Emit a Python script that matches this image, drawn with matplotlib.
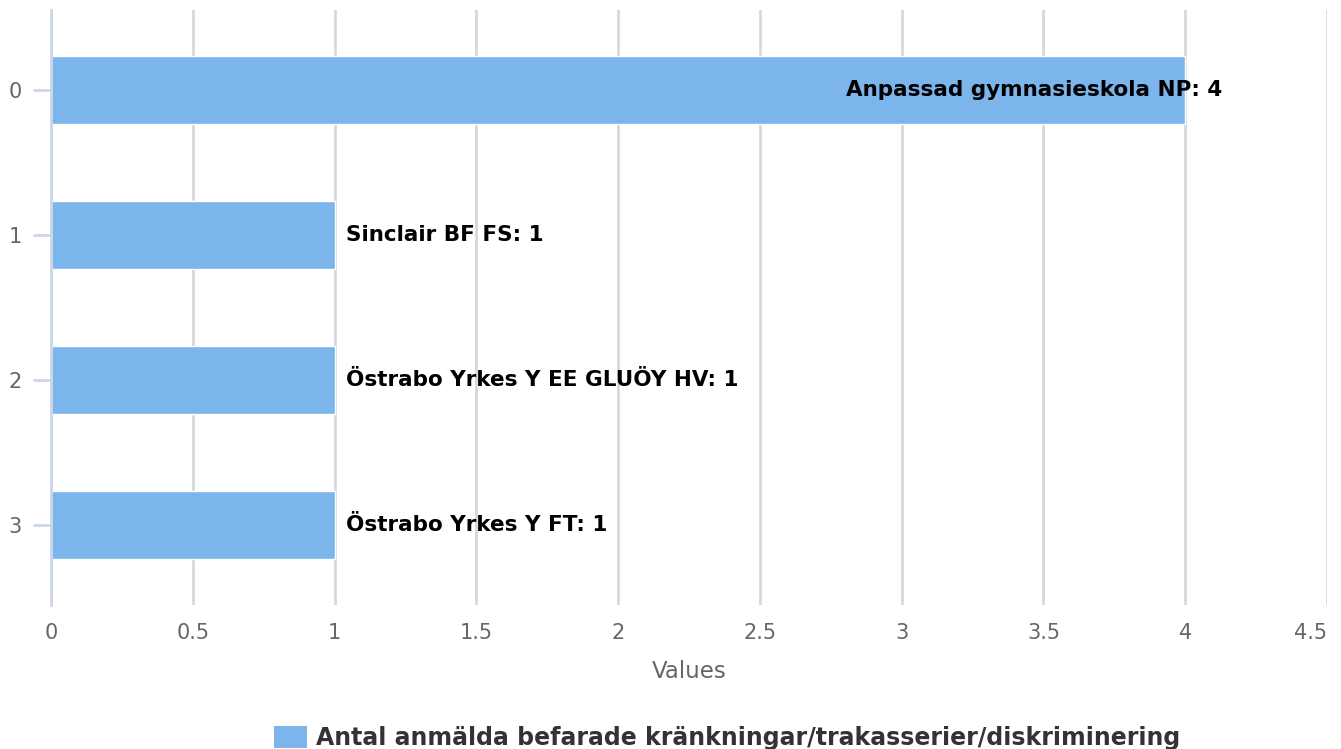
import matplotlib
matplotlib.use('Agg')
import matplotlib.pyplot as plt
from matplotlib.patches import Patch

# data
categories = [0, 1, 2, 3]
schools = ["Anpassad gymnasieskola NP", "Sinclair BF FS",
           "Östrabo Yrkes Y EE GLUÖY HV", "Östrabo Yrkes Y FT"]
values = [4, 1, 1, 1]
series_name = "Antal anmälda befarade kränkningar/trakasserier/diskriminering"
xticks = [0, 0.5, 1, 1.5, 2, 2.5, 3, 3.5, 4, 4.5]
xtick_labels = ["0", "0.5", "1", "1.5", "2", "2.5", "3", "3.5", "4", "4.5"]

bar_color = '#7cb5ec'
grid_color = '#d8d8d8'
axis_color = '#ccd6eb'
label_grey = '#666666'

fig = plt.figure(figsize=(13.41, 7.49), dpi=100)
ax = fig.add_axes([51 / 1341, 1 - 605 / 749, 1276 / 1341, 595 / 749])

ax.barh(categories, values, height=0.47, color=bar_color,
        edgecolor='white', linewidth=1, zorder=3)

ax.set_xlim(0, 4.5)
ax.set_ylim(3.55, -0.55)

ax.set_xticks(xticks)
ax.set_xticklabels(xtick_labels)
ax.set_yticks(categories)
ax.set_yticklabels([str(c) for c in categories])
# last tick label kept inside the figure
ax.get_xticklabels()[-1].set_horizontalalignment('right')

ax.grid(axis='x', color=grid_color, linewidth=2, zorder=0)
ax.grid(axis='y', visible=False)
for s in ['top', 'right', 'bottom']:
    ax.spines[s].set_visible(False)
ax.spines['left'].set_color(axis_color)
ax.spines['left'].set_linewidth(2)
ax.spines['left'].set_zorder(4)

ax.tick_params(axis='x', length=0, pad=13, labelsize=15, labelcolor=label_grey)
ax.tick_params(axis='y', length=13, width=2, color=axis_color, pad=8,
               labelsize=15, labelcolor=label_grey)

ax.set_xlabel('Values', fontsize=16.5, color=label_grey, labelpad=12)

# data labels
for i, (name, v) in enumerate(zip(schools, values)):
    txt = f"{name}: {v}"
    if v >= max(values):
        ax.text(v + 0.13, i, txt, ha='right', va='center', fontsize=15.5,
                fontweight='bold', color='black', zorder=5)
    else:
        ax.text(v + 0.04, i, txt, ha='left', va='center', fontsize=15.5,
                fontweight='bold', color='black', zorder=5)

handles = [Patch(facecolor=bar_color, edgecolor='none')]
leg = fig.legend(handles, [series_name], loc='center', bbox_to_anchor=(727 / 1341, 1 - 738 / 749),
                 frameon=False, handlelength=1.4, handleheight=1.1, handletextpad=0.38,
                 prop={'weight': 'bold', 'size': 17})
for t in leg.get_texts():
    t.set_color('#333333')

fig.savefig('out.png', dpi=100)
